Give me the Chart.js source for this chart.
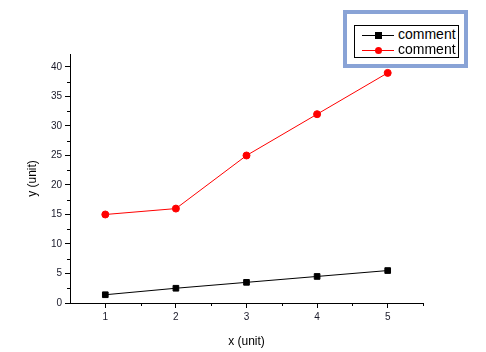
<!DOCTYPE html>
<html>
<head>
<meta charset="utf-8">
<script src="https://cdn.jsdelivr.net/npm/chart.js@4/dist/chart.umd.min.js"></script>
<style>
  html, body { margin: 0; padding: 0; background: #fff; }
  #wrap { position: relative; width: 486px; height: 352px; }
  #legend {
    position: absolute; left: 343px; top: 10px; width: 117px; height: 50px;
    border: 4px solid #89a3d6; background: #fff; box-sizing: content-box;
  }
  #legendInner {
    position: absolute; left: 7px; top: 11px; width: 103px; height: 31px;
    border: 1px solid #000; font: 14px "Liberation Sans", Arial, sans-serif;
  }
  .row { position: absolute; left: 0; height: 16px; line-height: 16px; }
  .row canvas { position: absolute; left: 7px; top: 0; }
  .row span { position: absolute; left: 43px; top: -1px; color: #000; }
</style>
</head>
<body>
<div id="wrap">
  <canvas id="chart" width="486" height="352"></canvas>
  <div id="legend"><div id="legendInner"></div></div>
</div>
<script>
const xValues = [1, 2, 3, 4, 5];
const blackValues = [1.4, 2.5, 3.5, 4.5, 5.5];
const redValues = [15, 16, 25, 32, 39];
const xTicks = [1, 2, 3, 4, 5];
const yTicks = [0, 5, 10, 15, 20, 25, 30, 35, 40];
const xMinorTicks = [1.5, 2.5, 3.5, 4.5, 5.5];
const yMinorTicks = [2.5, 7.5, 12.5, 17.5, 22.5, 27.5, 32.5, 37.5];
const seriesNames = ["comment", "comment"];

const fontFamily = '"Liberation Sans", Arial, sans-serif';

// minor ticks are not built in, draw them outside the plot
const minorTicks = {
    id: "minorTicks",
    afterDraw(chart) {
        const ctx = chart.ctx;
        const x = chart.scales.x, y = chart.scales.y;
        ctx.save();
        ctx.strokeStyle = "#000";
        ctx.lineWidth = 1;
        ctx.beginPath();
        xMinorTicks.forEach(v => {
            const px = Math.round(x.getPixelForValue(v)) + 0.5;
            ctx.moveTo(px, x.top);
            ctx.lineTo(px, x.top + 3);
        });
        yMinorTicks.forEach(v => {
            const py = Math.round(y.getPixelForValue(v)) + 0.5;
            ctx.moveTo(y.right, py);
            ctx.lineTo(y.right - 3, py);
        });
        ctx.stroke();
        ctx.restore();
    }
};

new Chart(document.getElementById("chart"), {
    type: "line",
    data: {
        datasets: [
            {
                label: seriesNames[0],
                data: xValues.map((x, i) => ({ x: x, y: blackValues[i] })),
                borderColor: "#000",
                backgroundColor: "#000",
                borderWidth: 1,
                pointStyle: "rect",
                pointRadius: 4,
                tension: 0
            },
            {
                label: seriesNames[1],
                data: xValues.map((x, i) => ({ x: x, y: redValues[i] })),
                borderColor: "#ff0000",
                backgroundColor: "#ff0000",
                borderWidth: 1,
                pointStyle: "circle",
                pointRadius: 3.5,
                tension: 0
            }
        ]
    },
    options: {
        responsive: false,
        animation: false,
        layout: { padding: { left: 1, top: 54, right: 63, bottom: 0 } },
        plugins: { legend: { display: false }, tooltip: { enabled: false } },
        scales: {
            x: {
                type: "linear",
                min: 0.5,
                max: 5.5,
                afterBuildTicks: s => { s.ticks = xTicks.map(v => ({ value: v })); },
                afterFit: s => { s.height = 49; },
                grid: { drawOnChartArea: false, drawTicks: true, tickLength: 5, color: "#000" },
                border: { color: "#000", width: 1 },
                ticks: { color: "#1a1a2a", font: { family: fontFamily, size: 10 }, padding: 3, maxRotation: 0 },
                title: { display: true, text: "x (unit)", color: "#000", font: { family: fontFamily, size: 12 }, padding: { top: 0, bottom: 3 } }
            },
            y: {
                type: "linear",
                min: 0,
                max: 42.2,
                afterBuildTicks: s => { s.ticks = yTicks.map(v => ({ value: v })); },
                afterFit: s => { s.width = 69; },
                grid: { drawOnChartArea: false, drawTicks: true, tickLength: 5, color: "#000" },
                border: { color: "#000", width: 1 },
                ticks: { color: "#1a1a2a", font: { family: fontFamily, size: 10 }, padding: 3 },
                title: { display: true, text: "y (unit)", color: "#000", font: { family: fontFamily, size: 12 }, padding: { top: 24, bottom: 0 } }
            }
        }
    },
    plugins: [minorTicks]
});

// legend drawn as html over the top right of the plot
const legendInner = document.getElementById("legendInner");
const legendStyles = [
    { color: "#000", shape: "rect" },
    { color: "#ff0000", shape: "circle" }
];
seriesNames.forEach((name, i) => {
    const row = document.createElement("div");
    row.className = "row";
    row.style.top = (1 + i * 15) + "px";
    const c = document.createElement("canvas");
    c.width = 32; c.height = 16;
    const g = c.getContext("2d");
    g.strokeStyle = legendStyles[i].color;
    g.fillStyle = legendStyles[i].color;
    g.lineWidth = 1;
    g.beginPath();
    g.moveTo(0, 8.5); g.lineTo(32, 8.5);
    g.stroke();
    if (legendStyles[i].shape === "rect") {
        g.fillRect(13, 5, 7, 7);
    } else {
        g.beginPath();
        g.arc(16.5, 8.5, 3.5, 0, Math.PI * 2);
        g.fill();
    }
    const label = document.createElement("span");
    label.textContent = name;
    row.appendChild(c);
    row.appendChild(label);
    legendInner.appendChild(row);
});
</script>
</body>
</html>
